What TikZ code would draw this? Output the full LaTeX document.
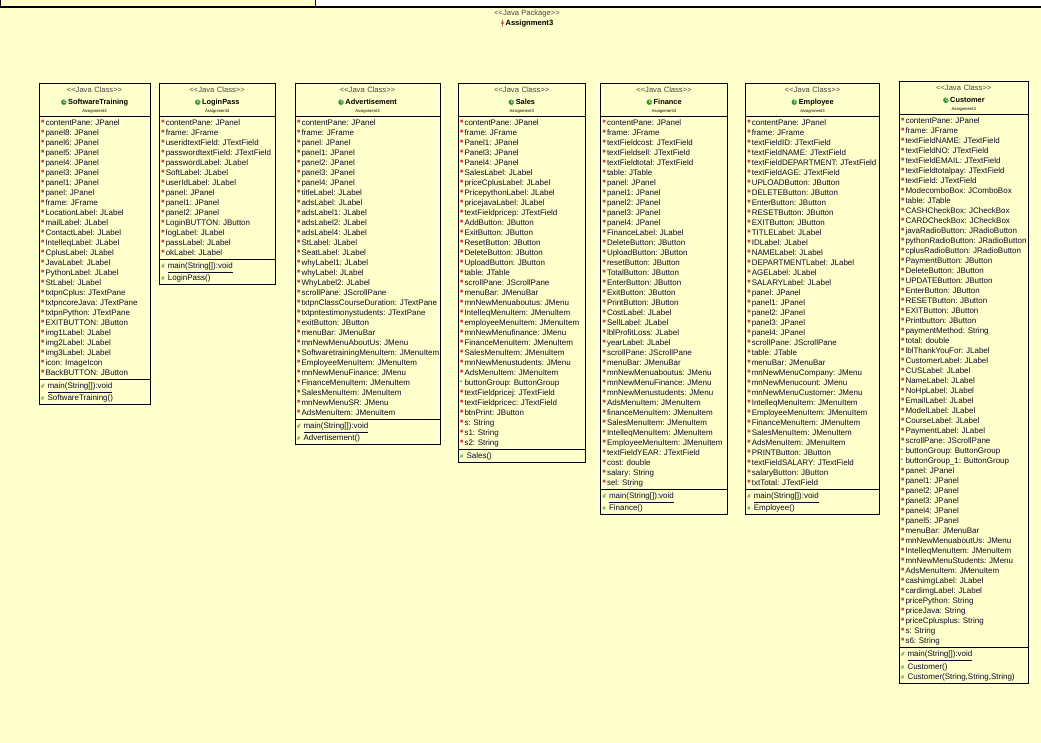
\documentclass[tikz,border=0pt]{standalone}
\usepackage{fontspec}
\setmainfont{Liberation Sans}
\newfontfamily\symfont{DejaVu Sans}
\usetikzlibrary{positioning}
\frenchspacing

\definecolor{umlyellow}{RGB}{255,255,204}
\definecolor{fldred}{RGB}{214,70,80}
\definecolor{mthgreen}{RGB}{40,150,40}
\definecolor{stereogray}{RGB}{70,70,70}
\definecolor{pkgblue}{RGB}{40,90,210}
\definecolor{pkgbrown}{RGB}{170,60,40}
\definecolor{txtblack}{RGB}{10,10,40}

% one line of a compartment
\newcommand{\lnstrut}{\rule[-2.5pt]{0pt}{10pt}}
\newcommand{\fld}[1]{\mbox{\makebox[4.5pt][l]{\raisebox{3pt}{\textcolor{fldred}{\symfont\fontsize{3.5}{3.5}\selectfont ■}}}#1\lnstrut}}
\newcommand{\pfld}[1]{\mbox{\makebox[4.5pt][l]{\raisebox{3pt}{\textcolor{pkgblue}{\symfont\fontsize{4}{4}\selectfont ▴}}}#1\lnstrut}}
\newcommand{\mthicon}{\textcolor{mthgreen}{\fontsize{5.5}{5.5}\selectfont\bfseries\#}}
\newcommand{\mth}[1]{\mbox{\makebox[6.5pt][l]{\mthicon}#1\lnstrut}}
\newcommand{\smth}[1]{\mbox{\makebox[6.5pt][l]{\mthicon\kern-0.8pt\raisebox{3pt}{\textcolor{fldred}{\fontsize{3}{3}\selectfont s}}}\underline{#1}\lnstrut}}
\newcommand{\clsicon}{\mbox{\textcolor{mthgreen}{\symfont\fontsize{7}{7}\selectfont ●}\llap{\makebox[4.4pt][c]{\raisebox{0.6pt}{\textcolor{white}{\fontsize{4}{4}\selectfont\bfseries C}}}}}}
\newcommand{\clshead}[1]{{\fontsize{7.6}{9}\selectfont\color{stereogray}<\kern0pt<Java Class>\kern0pt>}\\%
  {\fontsize{7.4}{9}\selectfont\clsicon\,\textbf{#1}}\\[-3.6pt]%
  {\fontsize{4.2}{5}\selectfont Assignment3}}

\begin{document}
\begin{tikzpicture}[x=1pt, y=-1pt]
        % Stijlen
        \tikzstyle{clshead} = [rectangle, draw=black, fill=umlyellow, line width=1pt, inner xsep=2pt, inner ysep=0pt, outer sep=0pt, minimum height=33.4pt, align=center, font=\fontsize{7.6}{12}\selectfont]
        \tikzstyle{clsbody} = [rectangle, draw=black, fill=umlyellow, line width=1pt, inner xsep=2pt, inner ysep=1.5pt, outer sep=0pt, align=left, text=txtblack, font=\fontsize{8}{10}\selectfont]

        \useasboundingbox (0,0) rectangle (1041,743);

        % Package
        \fill[umlyellow] (0,7) rectangle (1041,743);
        \draw[line width=1pt, fill=umlyellow] (0,0) rectangle (315,7);
        \draw[line width=1.5pt] (0,7) -- (1041,7);
        \node (pkg) [align=center, inner sep=0pt, font=\fontsize{7.6}{10.7}\selectfont] at (527,18.5)
            {{\color{stereogray}<\kern0pt<Java Package>\kern0pt>}\\ {\textcolor{pkgbrown}{\symfont ǂ}\,\textbf{Assignment3}}};

        % SoftwareTraining
        \node (st) [clshead, text width=107pt, anchor=north west] at (39,83.3) {\clshead{SoftwareTraining}};
        \node (st-attr) [clsbody, text width=107pt, below=0pt of st] {\fld{contentPane: JPanel}\\ \fld{panel8: JPanel}\\ \fld{panel6: JPanel}\\ \fld{panel5: JPanel}\\ \fld{panel4: JPanel}\\ \fld{panel3: JPanel}\\ \fld{panel1: JPanel}\\ \fld{panel: JPanel}\\ \fld{frame: JFrame}\\ \fld{LocationLabel: JLabel}\\ \fld{mailLabel: JLabel}\\ \fld{ContactLabel: JLabel}\\ \fld{IntelleqLabel: JLabel}\\ \fld{CplusLabel: JLabel}\\ \fld{JavaLabel: JLabel}\\ \fld{PythonLabel: JLabel}\\ \fld{StLabel: JLabel}\\ \fld{txtpnCplus: JTextPane}\\ \fld{txtpncoreJava: JTextPane}\\ \fld{txtpnPython: JTextPane}\\ \fld{EXITBUTTON: JButton}\\ \fld{img1Label: JLabel}\\ \fld{img2Label: JLabel}\\ \fld{img3Label: JLabel}\\ \fld{icon: ImageIcon}\\ \fld{BackBUTTON: JButton}};
        \node (st-ops) [clsbody, text width=107pt, below=0pt of st-attr] {\smth{main(String[]):void}\\ \mth{SoftwareTraining()}};

        % LoginPass
        \node (lp) [clshead, text width=111.7pt, anchor=north west] at (159.3,83.3) {\clshead{LoginPass}};
        \node (lp-attr) [clsbody, text width=111.7pt, below=0pt of lp] {\fld{contentPane: JPanel}\\ \fld{frame: JFrame}\\ \fld{useridtextField: JTextField}\\ \fld{passwordtextField: JTextField}\\ \fld{passwordLabel: JLabel}\\ \fld{SoftLabel: JLabel}\\ \fld{userIdLabel: JLabel}\\ \fld{panel: JPanel}\\ \fld{panel1: JPanel}\\ \fld{panel2: JPanel}\\ \fld{LoginBUTTON: JButton}\\ \fld{logLabel: JLabel}\\ \fld{passLabel: JLabel}\\ \fld{okLabel: JLabel}};
        \node (lp-ops) [clsbody, text width=111.7pt, below=0pt of lp-attr] {\smth{main(String[]):void}\\ \mth{LoginPass()}};

        % Advertisement
        \node (ad) [clshead, text width=141pt, anchor=north west] at (295,83.3) {\clshead{Advertisement}};
        \node (ad-attr) [clsbody, text width=141pt, below=0pt of ad] {\fld{contentPane: JPanel}\\ \fld{frame: JFrame}\\ \fld{panel: JPanel}\\ \fld{panel1: JPanel}\\ \fld{panel2: JPanel}\\ \fld{panel3: JPanel}\\ \fld{panel4: JPanel}\\ \fld{titleLabel: JLabel}\\ \fld{adsLabel: JLabel}\\ \fld{adsLabel1: JLabel}\\ \fld{adsLabel2: JLabel}\\ \fld{adsLabel4: JLabel}\\ \fld{StLabel: JLabel}\\ \fld{SeatLabel: JLabel}\\ \fld{whyLabel1: JLabel}\\ \fld{whyLabel: JLabel}\\ \fld{WhyLabel2: JLabel}\\ \fld{scrollPane: JScrollPane}\\ \fld{txtpnClassCourseDuration: JTextPane}\\ \fld{txtpntestimonystudents: JTextPane}\\ \fld{exitButton: JButton}\\ \fld{menuBar: JMenuBar}\\ \fld{mnNewMenuAboutUs: JMenu}\\ \fld{SoftwaretrainingMenuItem: JMenuItem}\\ \fld{EmployeeMenuItem: JMenuItem}\\ \fld{mnNewMenuFinance: JMenu}\\ \fld{FinanceMenuItem: JMenuItem}\\ \fld{SalesMenuItem: JMenuItem}\\ \fld{mnNewMenuSR: JMenu}\\ \fld{AdsMenuItem: JMenuItem}};
        \node (ad-ops) [clsbody, text width=141pt, below=0pt of ad-attr] {\smth{main(String[]):void}\\ \mth{Advertisement()}};

        % Sales
        \node (sa) [clshead, text width=123.5pt, anchor=north west] at (458,83.3) {\clshead{Sales}};
        \node (sa-attr) [clsbody, text width=123.5pt, below=0pt of sa] {\fld{contentPane: JPanel}\\ \fld{frame: JFrame}\\ \fld{Panel1: JPanel}\\ \fld{Panel3: JPanel}\\ \fld{Panel4: JPanel}\\ \fld{SalesLabel: JLabel}\\ \fld{priceCplusLabel: JLabel}\\ \fld{PricepythonLabel: JLabel}\\ \fld{pricejavaLabel: JLabel}\\ \fld{textFieldpricep: JTextField}\\ \fld{AddButton: JButton}\\ \fld{ExitButton: JButton}\\ \fld{ResetButton: JButton}\\ \fld{DeleteButton: JButton}\\ \fld{UploadButton: JButton}\\ \fld{table: JTable}\\ \fld{scrollPane: JScrollPane}\\ \fld{menuBar: JMenuBar}\\ \fld{mnNewMenuaboutus: JMenu}\\ \fld{IntelleqMenuItem: JMenuItem}\\ \fld{employeeMenuItem: JMenuItem}\\ \fld{mnNewMenufinance: JMenu}\\ \fld{FinanceMenuItem: JMenuItem}\\ \fld{SalesMenuItem: JMenuItem}\\ \fld{mnNewMenustudents: JMenu}\\ \fld{AdsMenuItem: JMenuItem}\\ \pfld{buttonGroup: ButtonGroup}\\ \fld{textFieldpricej: JTextField}\\ \fld{textFieldpricec: JTextField}\\ \fld{btnPrint: JButton}\\ \fld{s: String}\\ \fld{s1: String}\\ \fld{s2: String}};
        \node (sa-ops) [clsbody, text width=123.5pt, below=0pt of sa-attr] {\mth{Sales()}};

        % Finance
        \node (fi) [clshead, text width=123pt, anchor=north west] at (600.5,83.3) {\clshead{Finance}};
        \node (fi-attr) [clsbody, text width=123pt, below=0pt of fi] {\fld{contentPane: JPanel}\\ \fld{frame: JFrame}\\ \fld{textFieldcost: JTextField}\\ \fld{textFieldsell: JTextField}\\ \fld{textFieldtotal: JTextField}\\ \fld{table: JTable}\\ \fld{panel: JPanel}\\ \fld{panel1: JPanel}\\ \fld{panel2: JPanel}\\ \fld{panel3: JPanel}\\ \fld{panel4: JPanel}\\ \fld{FinanceLabel: JLabel}\\ \fld{DeleteButton: JButton}\\ \fld{UploadButton: JButton}\\ \fld{resetButton: JButton}\\ \fld{TotalButton: JButton}\\ \fld{EnterButton: JButton}\\ \fld{ExitButton: JButton}\\ \fld{PrintButton: JButton}\\ \fld{CostLabel: JLabel}\\ \fld{SellLabel: JLabel}\\ \fld{lblProfitLoss: JLabel}\\ \fld{yearLabel: JLabel}\\ \fld{scrollPane: JScrollPane}\\ \fld{menuBar: JMenuBar}\\ \fld{mnNewMenuaboutus: JMenu}\\ \fld{mnNewMenuFinance: JMenu}\\ \fld{mnNewMenustudents: JMenu}\\ \fld{AdsMenuItem: JMenuItem}\\ \fld{financeMenuItem: JMenuItem}\\ \fld{SalesMenuItem: JMenuItem}\\ \fld{IntelleqMenuItem: JMenuItem}\\ \fld{EmployeeMenuItem: JMenuItem}\\ \fld{textFieldYEAR: JTextField}\\ \fld{cost: double}\\ \fld{salary: String}\\ \fld{sel: String}};
        \node (fi-ops) [clsbody, text width=123pt, below=0pt of fi-attr] {\smth{main(String[]):void}\\ \mth{Finance()}};

        % Employee
        \node (em) [clshead, text width=130.5pt, anchor=north west] at (745.3,83.3) {\clshead{Employee}};
        \node (em-attr) [clsbody, text width=130.5pt, below=0pt of em] {\fld{contentPane: JPanel}\\ \fld{frame: JFrame}\\ \fld{textFieldID: JTextField}\\ \fld{textFieldNAME: JTextField}\\ \fld{textFieldDEPARTMENT: JTextField}\\ \fld{textFieldAGE: JTextField}\\ \fld{UPLOADButton: JButton}\\ \fld{DELETEButton: JButton}\\ \fld{EnterButton: JButton}\\ \fld{RESETButton: JButton}\\ \fld{EXITButton: JButton}\\ \fld{TITLELabel: JLabel}\\ \fld{IDLabel: JLabel}\\ \fld{NAMELabel: JLabel}\\ \fld{DEPARTMENTLabel: JLabel}\\ \fld{AGELabel: JLabel}\\ \fld{SALARYLabel: JLabel}\\ \fld{panel: JPanel}\\ \fld{panel1: JPanel}\\ \fld{panel2: JPanel}\\ \fld{panel3: JPanel}\\ \fld{panel4: JPanel}\\ \fld{scrollPane: JScrollPane}\\ \fld{table: JTable}\\ \fld{menuBar: JMenuBar}\\ \fld{mnNewMenuCompany: JMenu}\\ \fld{mnNewMenucount: JMenu}\\ \fld{mnNewMenuCustomer: JMenu}\\ \fld{IntelleqMenuItem: JMenuItem}\\ \fld{EmployeeMenuItem: JMenuItem}\\ \fld{FinanceMenuItem: JMenuItem}\\ \fld{SalesMenuItem: JMenuItem}\\ \fld{AdsMenuItem: JMenuItem}\\ \fld{PRINTButton: JButton}\\ \fld{textFieldSALARY: JTextField}\\ \fld{salaryButton: JButton}\\ \fld{txtTotal: JTextField}};
        \node (em-ops) [clsbody, text width=130.5pt, below=0pt of em-attr] {\smth{main(String[]):void}\\ \mth{Employee()}};

        % Customer
        \node (cu) [clshead, text width=125.5pt, anchor=north west] at (899,81.5) {\clshead{Customer}};
        \node (cu-attr) [clsbody, text width=125.5pt, below=0pt of cu] {\fld{contentPane: JPanel}\\ \fld{frame: JFrame}\\ \fld{textFieldNAME: JTextField}\\ \fld{textFieldNO: JTextField}\\ \fld{textFieldEMAIL: JTextField}\\ \fld{textFieldtotalpay: JTextField}\\ \fld{textField: JTextField}\\ \fld{ModecomboBox: JComboBox}\\ \fld{table: JTable}\\ \fld{CASHCheckBox: JCheckBox}\\ \fld{CARDCheckBox: JCheckBox}\\ \fld{javaRadioButton: JRadioButton}\\ \fld{pythonRadioButton: JRadioButton}\\ \fld{cplusRadioButton: JRadioButton}\\ \fld{PaymentButton: JButton}\\ \fld{DeleteButton: JButton}\\ \fld{UPDATEButton: JButton}\\ \fld{EnterButton: JButton}\\ \fld{RESETButton: JButton}\\ \fld{EXITButton: JButton}\\ \fld{Printbutton: JButton}\\ \fld{paymentMethod: String}\\ \fld{total: double}\\ \fld{lblThankYouFor: JLabel}\\ \fld{CustomerLabel: JLabel}\\ \fld{CUSLabel: JLabel}\\ \fld{NameLabel: JLabel}\\ \fld{NoHpLabel: JLabel}\\ \fld{EmailLabel: JLabel}\\ \fld{ModelLabel: JLabel}\\ \fld{CourseLabel: JLabel}\\ \fld{PaymentLabel: JLabel}\\ \fld{scrollPane: JScrollPane}\\ \pfld{buttonGroup: ButtonGroup}\\ \pfld{buttonGroup\_1: ButtonGroup}\\ \fld{panel: JPanel}\\ \fld{panel1: JPanel}\\ \fld{panel2: JPanel}\\ \fld{panel3: JPanel}\\ \fld{panel4: JPanel}\\ \fld{panel5: JPanel}\\ \fld{menuBar: JMenuBar}\\ \fld{mnNewMenuaboutUs: JMenu}\\ \fld{IntelleqMenuItem: JMenuItem}\\ \fld{mnNewMenuStudents: JMenu}\\ \fld{AdsMenuItem: JMenuItem}\\ \fld{cashimgLabel: JLabel}\\ \fld{cardimgLabel: JLabel}\\ \fld{pricePython: String}\\ \fld{priceJava: String}\\ \fld{priceCplusplus: String}\\ \fld{s: String}\\ \fld{s6: String}};
        \node (cu-ops) [clsbody, text width=125.5pt, below=0pt of cu-attr] {\smth{main(String[]):void}\\ \mth{Customer()}\\ \mth{Customer(String,String,String)}};

\end{tikzpicture}
\end{document}
